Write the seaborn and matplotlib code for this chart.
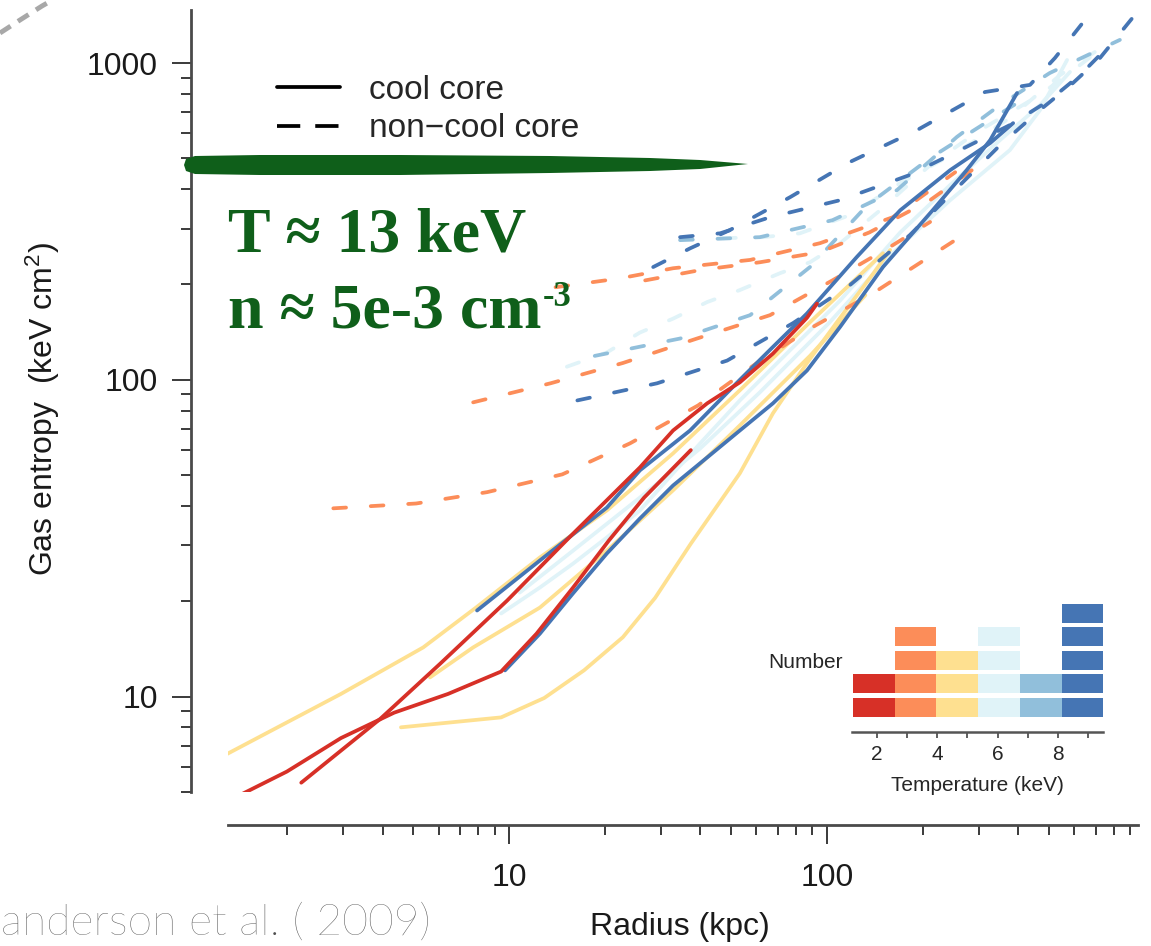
import numpy as np
import pandas as pd
import matplotlib
matplotlib.use("Agg")
import matplotlib.pyplot as plt
import seaborn as sns
from matplotlib.lines import Line2D
from matplotlib.patches import Polygon
from matplotlib.ticker import LogLocator, NullFormatter, FixedLocator

# ---------------- data ----------------
bin_labels = ["1.2-2.6 keV", "2.6-4.0 keV", "4.0-5.4 keV", "5.4-6.7 keV", "6.7-8.1 keV", "8.1-9.5 keV"]
temp_edges = [1.2, 2.585, 3.97, 5.355, 6.74, 8.125, 9.51]
bin_counts = [2, 4, 3, 4, 2, 5]
bin_colors = ["#d73027", "#fc8d59", "#fee090", "#e0f3f8", "#91bfdb", "#4575b4"]
temp_ticks = [2, 4, 6, 8]

# radius (kpc) / entropy (keV cm^2) profiles
r_red1 = [1.43, 2.0, 2.96, 4.35, 6.43, 9.44, 12.2, 15.9, 20.6, 26.6, 37.3]
K_red1 = [4.9, 5.8, 7.4, 8.9, 10.2, 12.0, 15.8, 22.1, 31.1, 42.5, 60]
r_red2 = [2.22, 3.93, 6.07, 9.86, 15.9, 25.8, 32.8, 42.0, 53.2, 67.6, 86.5, 93.0]
K_red2 = [5.35, 8.5, 12.7, 20.1, 32.7, 52.9, 69.2, 84.3, 98.2, 121, 157, 174]

r_or1 = [2.80, 5.10, 8.53, 14.7, 24.0, 39.3, 60.2, 90.4, 140, 253]
K_or1 = [39.3, 40.7, 44.2, 50.3, 63.0, 83.0, 113, 147, 188, 276]
r_or2 = [7.71, 13.5, 22.8, 39.0, 66.2, 104, 161, 211]
K_or2 = [84.9, 97.5, 113, 135, 160, 206, 266, 315]
r_or3 = [14.0, 22.3, 32.8, 57.3, 95.1, 161, 253]
K_or3 = [196, 209, 225, 239, 270, 326, 452]
r_or4 = [26.8, 39.9, 61.5, 95.1, 136, 211, 326]
K_or4 = [206, 222, 235, 253, 292, 369, 505]

r_ye1 = [1.3, 2.96, 5.37, 7.87, 12.5, 20.3, 32.8, 53.2, 88.4, 150]
K_ye1 = [6.6, 10.2, 14.3, 19.1, 27.5, 38.7, 58.6, 92.7, 152, 251]
r_ye2 = [5.64, 7.71, 12.5, 20.3, 32.8, 53.2, 88.4, 132]
K_ye2 = [11.5, 14.3, 19.1, 28.9, 44.8, 71.8, 119, 185]
r_ye3 = [4.57, 9.44, 12.9, 17.2, 22.8, 28.8, 37.3, 53.2, 67.6, 86.5, 110, 140, 158]
K_ye3 = [8.0, 8.6, 9.9, 12.1, 15.4, 20.5, 30.4, 50.7, 78.4, 113, 157, 217, 257]

r_lb1 = [9.44, 12.5, 15.9, 20.3, 25.8, 32.8, 39.9, 53.2, 76.5, 110, 170, 244, 350, 468, 581]
K_lb1 = [18.3, 22.1, 26.3, 31.8, 38.7, 50.7, 63.0, 86.1, 124, 178, 292, 412, 571, 737, 937]
r_lb2 = [10.8, 15.9, 25.8, 39.9, 61.5, 102, 158, 244, 376, 468, 569]
K_lb2 = [21.3, 28.9, 42.5, 60.7, 91.3, 152, 247, 369, 531, 711, 1022]
r_lb3 = [15.2, 20.3, 25.8, 32.8, 42.0, 53.2, 71.1, 88.4, 110, 147, 211, 303, 468, 722]
K_lb3 = [110, 122, 141, 156, 176, 192, 217, 235, 270, 343, 476, 614, 793, 1099]
r_lb4 = [47.1, 62.9, 82.2, 118, 170, 262, 376, 541, 776]
K_lb4 = [280, 282, 290, 331, 418, 531, 670, 916, 1165]

r_mb1 = [18.6, 34.5, 57.3, 88.4, 134, 211, 326, 435]
K_mb1 = [119, 135, 160, 227, 356, 501, 661, 793]
r_mb2 = [34.5, 61.5, 104, 166, 256, 350, 502, 834]
K_mb2 = [276, 282, 319, 397, 584, 737, 930, 1183]

r_db1 = [7.93, 12.5, 20.3, 25.8, 37.1, 53.2, 67.6, 86.5, 124, 170, 244, 326, 385]
K_db1 = [18.7, 26.9, 39.5, 51.8, 69.2, 100, 127, 162, 244, 343, 459, 559, 646]
r_db2 = [9.71, 12.5, 15.9, 20.3, 25.8, 32.8, 42.0, 53.2, 67.6, 86.5, 110, 150, 215, 275, 326, 396]
K_db2 = [12.1, 15.8, 21.2, 28.3, 36.5, 46.4, 56.9, 69.2, 84.3, 107, 147, 227, 343, 459, 571, 804]
r_db3 = [16.4, 29.2, 48.5, 78.2, 118, 182, 262, 350, 468, 594, 722, 920]
K_db3 = [86.1, 97.5, 115, 151, 199, 286, 412, 550, 711, 865, 1037, 1400]
r_db4 = [28.4, 37.1, 49.5, 76.5, 118, 192, 314, 435, 521, 660]
K_db4 = [227, 260, 297, 377, 487, 614, 810, 853, 1037, 1400]
r_db5 = [34.5, 46.1, 66.2, 110, 182, 262, 376, 502, 625, 748]
K_db5 = [282, 290, 326, 369, 443, 531, 637, 764, 916, 1099]

CC, NCC = "cool core", "non\u2212cool core"
profiles = [
    ("red1", 0, CC, r_red1, K_red1), ("red2", 0, CC, r_red2, K_red2),
    ("or1", 1, NCC, r_or1, K_or1), ("or2", 1, NCC, r_or2, K_or2),
    ("or3", 1, NCC, r_or3, K_or3), ("or4", 1, NCC, r_or4, K_or4),
    ("ye1", 2, CC, r_ye1, K_ye1), ("ye2", 2, CC, r_ye2, K_ye2), ("ye3", 2, CC, r_ye3, K_ye3),
    ("lb1", 3, CC, r_lb1, K_lb1), ("lb2", 3, CC, r_lb2, K_lb2),
    ("lb3", 3, NCC, r_lb3, K_lb3), ("lb4", 3, NCC, r_lb4, K_lb4),
    ("mb1", 4, NCC, r_mb1, K_mb1), ("mb2", 4, NCC, r_mb2, K_mb2),
    ("db1", 5, CC, r_db1, K_db1), ("db2", 5, CC, r_db2, K_db2),
    ("db3", 5, NCC, r_db3, K_db3), ("db4", 5, NCC, r_db4, K_db4), ("db5", 5, NCC, r_db5, K_db5),
]
rows = []
for name, b, core, rr, kk in profiles:
    for ri, ki in zip(rr, kk):
        rows.append({"cluster": name, "tbin": bin_labels[b], "core": core,
                     "radius": ri, "entropy": ki})
df = pd.DataFrame(rows)

# ---------------- style ----------------
sns.set_style("ticks")
plt.rcParams["font.family"] = ["Liberation Sans", "DejaVu Sans"]
plt.rcParams["mathtext.default"] = "regular"

W, H = 1151, 946
fig = plt.figure(figsize=(W / 100, H / 100), dpi=100)
fig.patch.set_facecolor("white")

def fx(px):
    return px / W

def fy(py):
    return 1 - py / H

ax = fig.add_axes([fx(228), fy(792), fx(1138) - fx(228), fy(10) - fy(792)])
ax.set_facecolor("white")

palette = dict(zip(bin_labels, bin_colors))
hue_z = [bin_labels[i] for i in (3, 2, 4, 1, 5, 0)]
sns.lineplot(data=df, x="radius", y="entropy", hue="tbin", style="core",
             units="cluster", estimator=None, sort=False,
             hue_order=hue_z, palette=palette,
             style_order=[CC, NCC], dashes={CC: "", NCC: (3.4, 6.6)},
             lw=2.7, dash_capstyle="round", solid_capstyle="round",
             legend=False, ax=ax)

ax.set_xscale("log")
ax.set_yscale("log")
ax.set_xlim(1.306, 951)
ax.set_ylim(5.0, 1470)

ax.xaxis.set_major_locator(FixedLocator([10, 100]))
ax.xaxis.set_minor_locator(LogLocator(base=10, subs=np.arange(2, 10)))
ax.xaxis.set_minor_formatter(NullFormatter())
ax.set_xticklabels(["10", "100"])
ax.yaxis.set_major_locator(FixedLocator([10, 100, 1000]))
ax.yaxis.set_minor_locator(LogLocator(base=10, subs=np.arange(2, 10)))
ax.yaxis.set_minor_formatter(NullFormatter())
ax.set_yticklabels(["10", "100", "1000"])

for s in ("top", "right"):
    ax.spines[s].set_visible(False)
ax.spines["left"].set_position(("outward", 26.6))
ax.spines["bottom"].set_position(("outward", 23.8))
for s in ("left", "bottom"):
    ax.spines[s].set_color("#4a4a4a")
    ax.spines[s].set_linewidth(2.0)

ax.tick_params(which="both", bottom=True, left=True, top=False, right=False)
ax.tick_params(which="major", direction="out", length=14, width=1.4, color="#3a3a3a",
               labelsize=23, labelcolor="#1a1a1a")
ax.tick_params(axis="x", which="major", pad=13)
ax.tick_params(axis="y", which="major", pad=10)
ax.tick_params(which="minor", direction="out", length=7, width=1.4, color="#3a3a3a")

ax.set_xlabel("Radius (kpc)", fontsize=23, color="#1a1a1a")
ax.xaxis.set_label_coords((680 - 228) / 910, -(912 - 792) / 782)
ax.set_ylabel("Gas entropy  (keV cm$^{2}$)", fontsize=23, color="#1a1a1a")
ax.yaxis.set_label_coords(-(228 - 62) / 910, 0.49)

# legend for core type
handles = [Line2D([], [], color="black", lw=2.7),
           Line2D([], [], color="black", lw=2.7, dashes=(6.2, 4.0))]
ax.legend(handles, [CC, NCC], loc="upper left",
          bbox_to_anchor=(fx(277), fy(75)), bbox_transform=fig.transFigure,
          frameon=False, borderpad=0, borderaxespad=0, handlelength=1.9,
          handletextpad=0.85, labelspacing=0.22, fontsize=24)

# ---------------- inset histogram ----------------
axi = fig.add_axes([fx(852), fy(732), fx(1103) - fx(852), fy(599) - fy(732)])
axi.set_facecolor("none")
centers = [(a + b) / 2 for a, b in zip(temp_edges[:-1], temp_edges[1:])]
widths = [b - a for a, b in zip(temp_edges[:-1], temp_edges[1:])]
for c, w, n, col in zip(centers, widths, bin_counts, bin_colors):
    for k in range(n):
        axi.bar(c, 0.8, bottom=k, width=w, color=col, linewidth=0)
axi.set_xlim(1.17, 9.5)
axi.set_ylim(-0.64, 5.0)
axi.xaxis.set_major_locator(FixedLocator(temp_ticks))
axi.xaxis.set_minor_locator(FixedLocator([3, 5, 7, 9]))
axi.set_yticks([])
for s in ("top", "right", "left"):
    axi.spines[s].set_visible(False)
axi.spines["bottom"].set_color("#555555")
axi.spines["bottom"].set_linewidth(1.8)
axi.tick_params(axis="x", which="both", bottom=True, direction="out", length=4.5, width=1.2,
                color="#444444", labelsize=15, pad=5)
axi.set_xlabel("Temperature (keV)", fontsize=15)
axi.xaxis.set_label_coords(0.5, -0.33)
fig.text(fx(843), fy(662), "Number", ha="right", va="center", fontsize=15)

# ---------------- slide annotations ----------------
green = "#0f5f1a"
stroke = [(186, 159), (195, 156), (260, 155), (400, 155), (550, 156), (650, 158),
          (700, 160), (748, 164), (700, 169), (650, 171), (550, 173), (400, 175),
          (260, 175), (195, 174), (186, 171), (184, 165)]
fig.patches.append(Polygon([(fx(x), fy(y)) for x, y in stroke], closed=True,
                           facecolor=green, edgecolor="none", transform=fig.transFigure))
serif = ["Liberation Serif", "DejaVu Serif"]
fig.text(fx(228), fy(252), "T \u2248 13 keV", fontsize=46, fontweight="bold",
         color=green, family=serif, ha="left", va="baseline")
t2 = fig.text(fx(228), fy(328), "n \u2248 5e-3 cm", fontsize=46, fontweight="bold",
              color=green, family=serif, ha="left", va="baseline")
fig.canvas.draw()
bb = t2.get_window_extent(renderer=fig.canvas.get_renderer())
fig.text(bb.x1 / W + 0.001, fy(306), "-3", fontsize=25, fontweight="bold",
         color=green, family=serif, ha="left", va="baseline")

fig.add_artist(Line2D([fx(0), fx(20), fx(42), fx(56)], [fy(33), fy(20), fy(6), fy(-2)],
                      transform=fig.transFigure, color="#a8a8a8", lw=3.5,
                      dashes=(2.6, 1.8)))
fig.text(fx(1), fy(935), "anderson et al. ( 2009)", fontsize=32, color="#4f4f4f",
         family=["Lato", "DejaVu Sans"], fontweight="light", ha="left", va="baseline")

fig.savefig("out.png", dpi=100, facecolor="white")
